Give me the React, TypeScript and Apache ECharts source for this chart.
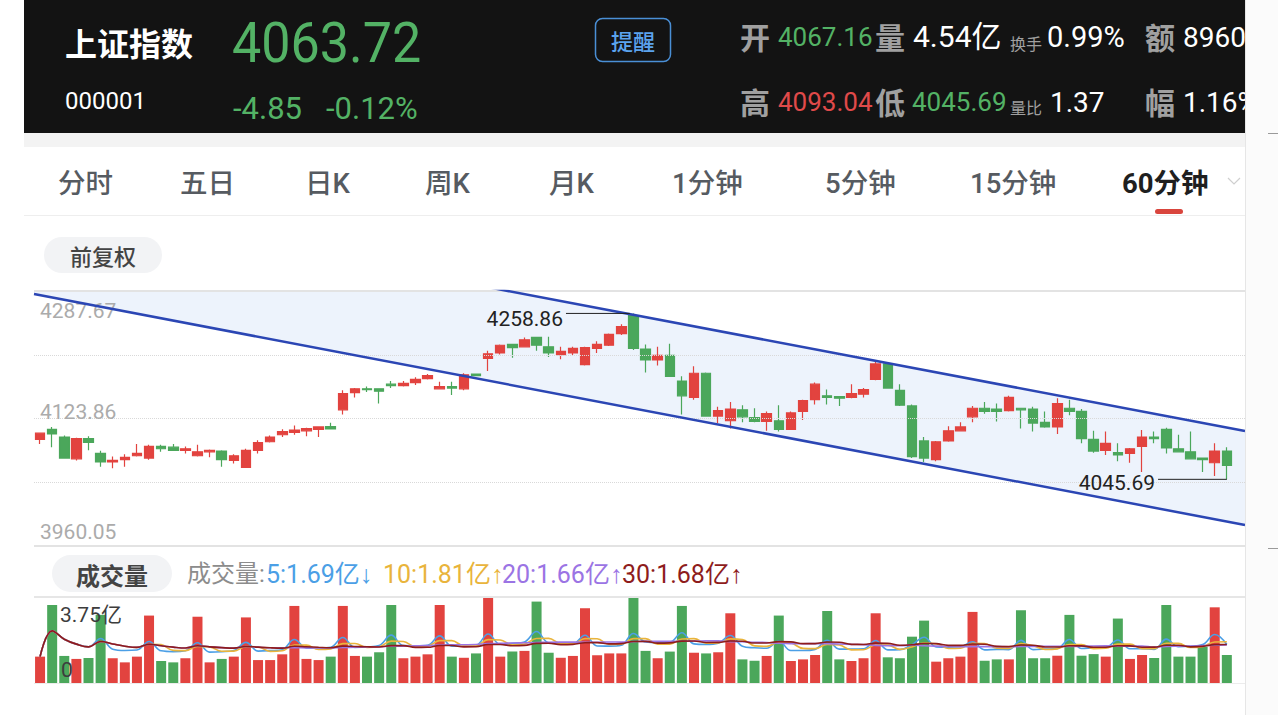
import React, { useEffect, useRef } from 'react';
import * as echarts from 'echarts';

// ---------- data ----------
const categories: string[] = Array.from({ length: 100 }, (_, i) => String(i + 1));

const opens = [4097, 4110, 4100, 4072, 4098, 4079, 4068, 4071, 4076, 4073, 4088, 4087, 4083, 4076, 4081, 4082, 4070, 4061, 4083, 4094, 4103, 4106, 4108, 4110, 4113.5, 4135, 4157, 4162, 4162, 4168, 4166, 4170, 4175, 4162, 4165, 4162, 4181, 4201, 4208, 4219, 4216, 4228, 4216, 4206, 4208, 4193, 4214, 4218, 4233, 4256, 4213, 4199, 4205, 4172, 4151, 4182, 4127, 4121, 4135, 4125, 4120, 4121, 4110, 4133, 4148, 4153, 4152, 4151, 4155, 4174, 4194, 4160, 4140, 4095, 4071, 4095, 4108, 4126, 4137, 4136, 4134, 4137, 4136, 4119, 4113, 4137, 4133, 4097, 4083, 4080, 4079, 4088, 4100, 4110, 4085, 4081, 4073, 4067, 4082];
const closes = [4105, 4104, 4073, 4098, 4093, 4068, 4070, 4074, 4079, 4088, 4085, 4083, 4085, 4081, 4083, 4071, 4076, 4083, 4093, 4100, 4107, 4109, 4111, 4113, 4110.5, 4156, 4162, 4161, 4159, 4166, 4169, 4174, 4179, 4165, 4163, 4180, 4179, 4207, 4218, 4215, 4225, 4218, 4208, 4210, 4214, 4215, 4219, 4232, 4242, 4214, 4199, 4205, 4178, 4153, 4182, 4127, 4134, 4136, 4126, 4120, 4130, 4110, 4131, 4147, 4168, 4151, 4150, 4156, 4161, 4194, 4163, 4141, 4075, 4073, 4094, 4108, 4113, 4137, 4133, 4133, 4151, 4135, 4118, 4113, 4143, 4133, 4098, 4082, 4092, 4077, 4085, 4100, 4098, 4086, 4081, 4072, 4071, 4082, 4063.72];
const lows = [4091, 4087, 4072, 4070, 4083, 4062, 4060, 4062, 4075, 4071, 4081, 4082, 4079, 4075, 4074, 4062, 4066, 4061, 4079, 4093, 4100, 4103, 4101, 4100, 4110, 4129, 4151, 4158, 4143, 4163, 4165, 4167, 4174, 4162, 4154, 4160, 4178, 4185, 4206, 4202, 4215, 4211, 4203, 4200, 4205, 4192, 4208, 4217, 4231, 4212, 4183, 4192, 4178, 4129, 4148, 4126, 4118, 4111, 4119, 4119, 4108, 4107, 4110, 4122, 4142, 4142, 4140, 4150, 4151, 4173, 4162, 4140, 4073, 4068, 4069, 4094, 4107, 4119, 4130, 4120, 4133, 4111, 4107, 4112, 4104, 4128, 4092, 4080, 4077, 4069, 4067, 4055, 4092, 4079, 4081, 4072, 4055, 4050, 4045.69];
const highs = [4106, 4113, 4102, 4099, 4101, 4082.5, 4075, 4078, 4091, 4090, 4090, 4091, 4088, 4090, 4084, 4083, 4078, 4085, 4096, 4102, 4110, 4115, 4112, 4114, 4118.5, 4160, 4163, 4165, 4162.5, 4172, 4172, 4177, 4181, 4171, 4171, 4182, 4181.5, 4211, 4219, 4219.5, 4228, 4228.5, 4229, 4216, 4216, 4216, 4223, 4233, 4245, 4258.86, 4219, 4216, 4220, 4178, 4191, 4183, 4139, 4145, 4141, 4137, 4133, 4141, 4133, 4148, 4170, 4161, 4152.5, 4168, 4163, 4197, 4196, 4168, 4142, 4100, 4095, 4114, 4119, 4140, 4145, 4143, 4153, 4137.5, 4139, 4133, 4150, 4148, 4136, 4108, 4107, 4092, 4086, 4109, 4107, 4112, 4103, 4107, 4073.5, 4092, 4087];

// volume in 亿, and its colour direction (1 = red, -1 = green)
const volumes = [1.15, 3.40, 1.18, 1.05, 1.09, 2.97, 1.08, 0.90, 1.15, 2.94, 0.96, 0.90, 1.08, 2.89, 0.90, 1.05, 1.15, 2.86, 1.00, 1.00, 1.25, 3.36, 1.05, 1.00, 1.15, 3.36, 1.18, 1.15, 1.34, 3.40, 1.08, 1.15, 1.25, 3.40, 1.15, 1.10, 1.29, 3.75, 1.15, 1.37, 1.40, 3.55, 1.32, 1.10, 1.18, 3.26, 1.21, 1.29, 1.29, 3.75, 1.40, 1.08, 1.37, 3.36, 1.32, 1.29, 1.34, 3.04, 1.03, 0.97, 1.18, 2.94, 0.96, 1.03, 1.22, 3.14, 1.03, 0.96, 1.08, 3.04, 1.12, 1.08, 2.02, 2.72, 0.93, 1.08, 1.15, 3.10, 0.97, 1.03, 1.03, 3.17, 1.08, 1.08, 1.19, 2.97, 1.19, 1.26, 1.15, 2.81, 1.05, 1.22, 1.09, 3.40, 1.15, 1.15, 1.58, 3.30, 1.22];
const volDir = [1, -1, -1, 1, -1, -1, 1, 1, 1, 1, -1, -1, 1, 1, 1, -1, 1, 1, 1, 1, 1, 1, 1, 1, -1, 1, 1, -1, -1, -1, 1, 1, 1, 1, -1, 1, -1, 1, 1, -1, 1, -1, -1, 1, 1, 1, 1, 1, 1, -1, -1, 1, -1, -1, 1, -1, 1, 1, -1, -1, 1, -1, 1, 1, 1, -1, -1, 1, 1, 1, -1, -1, -1, -1, 1, 1, 1, 1, -1, -1, 1, -1, -1, -1, 1, -1, -1, -1, 1, -1, 1, 1, -1, -1, -1, -1, -1, 1, -1];

const priceTicks = [4287.67, 4123.86, 3960.05];
const volTicks = [3.75, 0];
const volTickLabels = ['3.75亿', '0'];

// trend channel (x in slot index, y in price)
const channelX = [-0.5, 99.5];
const channelUpper = [4403.4, 4107.8];
const channelLower = [4283.8, 3987.0];

const maPeriods = [5, 10, 20, 30];
const maColors = ['#4b9fe6', '#e9b43c', '#9b74e4', '#8e1c1c'];
const maLegendValues = ['5:1.69亿', '10:1.81亿', '20:1.66亿', '30:1.68亿'];
const maLegendArrows = ['↓', '↑', '↑', '↑'];

const tabs = ['分时', '五日', '日K', '周K', '月K', '1分钟', '5分钟', '15分钟', '60分钟'];

// ---------- styles ----------
const UP = '#e2433f';
const DOWN = '#4ba75b';
const HG = '#53b265';
const HR = '#e04a4a';
const CJK = '"Noto Sans CJK SC", sans-serif';
const NUM = 'Roboto, "Noto Sans CJK SC", sans-serif';

function movingAvg(src: number[], n: number) {
  return src.map((_, i) => {
    const s = Math.max(0, i - n + 1);
    const w = src.slice(s, i + 1);
    return +(w.reduce((a, b) => a + b, 0) / w.length).toFixed(3);
  });
}

function txt(text: string, x: number, y: number, o: any = {}) {
  const { scaleX, z, ...style } = o;
  return {
    type: 'text',
    x,
    y,
    scaleX: scaleX ?? 1,
    z: z ?? 10,
    silent: true,
    style: { text, x: 0, y: 0, verticalAlign: 'middle', align: 'left', ...style },
  };
}

function buildOption() {
  const candles = opens.map((o, i) => [o, closes[i], lows[i], highs[i]]);
  const hiIdx = highs.indexOf(Math.max(...highs));
  const loIdx = lows.indexOf(Math.min(...lows));
  const hiVal = highs[hiIdx];
  const loVal = lows[loIdx];
  const volMax = volTicks[0];
  const quarterHi = (priceTicks[0] + priceTicks[1]) / 2;
  const quarterLo = (priceTicks[1] + priceTicks[2]) / 2;

  const labelBase = { color: '#ababab', fontFamily: 'Roboto', fontSize: 21 };

  const graphic: any[] = [
    // header
    { type: 'rect', shape: { x: 24, y: 0, width: 1221, height: 133 }, style: { fill: '#131313' }, z: 1, silent: true },
    { type: 'rect', shape: { x: 24, y: 133, width: 1221, height: 14 }, style: { fill: '#f3f3f3' }, z: 1, silent: true },
    txt('上证指数', 65, 42, { fill: '#ffffff', fontSize: 32, fontWeight: 'bold', fontFamily: CJK }),
    txt('4063.72', 232, 43, { fill: HG, fontSize: 56, fontFamily: 'Roboto', scaleX: 0.93 }),
    txt('000001', 65, 101, { fill: '#ffffff', fontSize: 24, fontFamily: 'Roboto' }),
    txt('-4.85', 233, 108, { fill: HG, fontSize: 31, fontFamily: 'Roboto' }),
    txt('-0.12%', 326, 108, { fill: HG, fontSize: 31, fontFamily: 'Roboto' }),
    { type: 'rect', shape: { x: 595.5, y: 18.5, width: 75, height: 43, r: 7 }, style: { fill: 'none', stroke: '#4a8fd6', lineWidth: 1.5 }, z: 10, silent: true },
    txt('提醒', 633, 40, { fill: '#5ba3ee', fontSize: 22, fontFamily: CJK, fontWeight: 500, align: 'center' }),

    txt('开', 740, 36, { fill: '#a0a0a0', fontSize: 30, fontWeight: 'bold', fontFamily: CJK }),
    txt('4067.16', 778, 37, { fill: HG, fontSize: 26, fontFamily: 'Roboto' }),
    txt('量', 875, 36, { fill: '#a0a0a0', fontSize: 30, fontWeight: 'bold', fontFamily: CJK }),
    txt('4.54亿', 913, 36, { fill: '#ffffff', fontSize: 30, fontFamily: NUM }),
    txt('换手', 1010, 43, { fill: '#a0a0a0', fontSize: 16, fontFamily: CJK }),
    txt('0.99%', 1047, 37, { fill: '#ffffff', fontSize: 29, fontFamily: 'Roboto' }),
    txt('额', 1145, 36, { fill: '#a0a0a0', fontSize: 30, fontWeight: 'bold', fontFamily: CJK }),
    txt('8960亿', 1183, 37, { fill: '#ffffff', fontSize: 28, fontFamily: NUM }),

    txt('高', 740, 101, { fill: '#a0a0a0', fontSize: 30, fontWeight: 'bold', fontFamily: CJK }),
    txt('4093.04', 778, 102, { fill: HR, fontSize: 26, fontFamily: 'Roboto' }),
    txt('低', 875, 101, { fill: '#a0a0a0', fontSize: 30, fontWeight: 'bold', fontFamily: CJK }),
    txt('4045.69', 912, 102, { fill: HG, fontSize: 26, fontFamily: 'Roboto' }),
    txt('量比', 1010, 107, { fill: '#a0a0a0', fontSize: 16, fontFamily: CJK }),
    txt('1.37', 1050, 102, { fill: '#ffffff', fontSize: 28, fontFamily: 'Roboto' }),
    txt('幅', 1145, 101, { fill: '#a0a0a0', fontSize: 30, fontWeight: 'bold', fontFamily: CJK }),
    txt('1.16%', 1183, 102, { fill: '#ffffff', fontSize: 28, fontFamily: 'Roboto' }),

    // tab bar
    { type: 'line', shape: { x1: 24, y1: 215.5, x2: 1245, y2: 215.5 }, style: { stroke: '#eeeeee', lineWidth: 1 }, z: 1, silent: true },
    { type: 'rect', shape: { x: 1155, y: 209, width: 28, height: 5, r: 2.5 }, style: { fill: '#d9453d' }, z: 10, silent: true },
    { type: 'polyline', shape: { points: [[1228, 178], [1234, 184], [1240, 178]] }, style: { stroke: '#cfcfcf', lineWidth: 1.2, fill: 'none' }, z: 10, silent: true },

    // 前复权 pill
    { type: 'rect', shape: { x: 44, y: 237, width: 118, height: 36, r: 18 }, style: { fill: '#f2f3f5' }, z: 1, silent: true },
    txt('前复权', 103, 255, { fill: '#444444', fontSize: 22, fontFamily: CJK, fontWeight: 500, align: 'center' }),

    // 成交量 pill and MA legend
    { type: 'rect', shape: { x: 52, y: 555, width: 120, height: 37, r: 18.5 }, style: { fill: '#f2f3f5' }, z: 1, silent: true },
    txt('成交量', 112, 574, { fill: '#444444', fontSize: 24, fontFamily: CJK, fontWeight: 'bold', align: 'center' }),
    txt('成交量:', 187, 574, { fill: '#8c8c8c', fontSize: 24, fontFamily: NUM }),
  ];

  const tabX = [58, 180, 305, 425, 549, 672, 825, 970, 1122];
  tabs.forEach((t, i) => {
    const active = i === tabs.length - 1;
    graphic.push(txt(t, tabX[i], 183, { fill: active ? '#1f1f1f' : '#565b61', fontSize: 27.5, fontFamily: NUM, fontWeight: active ? 'bold' : 500 }));
  });

  const legX = [266, 383, 502, 622];
  maLegendValues.forEach((t, i) => {
    graphic.push({
      type: 'text', x: legX[i], y: 574, z: 10, silent: true,
      style: {
        text: `{v|${t}}{a|${maLegendArrows[i]}}`,
        x: 0, y: 0, verticalAlign: 'middle', align: 'left',
        rich: {
          v: { fill: maColors[i], fontSize: 25, fontFamily: NUM },
          a: { fill: maColors[i], fontSize: 25, fontFamily: '"Liberation Sans", sans-serif' },
        },
      },
    });
  });

  // right strip
  graphic.push(
    { type: 'rect', shape: { x: 1245, y: 0, width: 33, height: 715 }, style: { fill: '#fbfbfb' }, z: 50, silent: true },
    { type: 'line', shape: { x1: 1245.5, y1: 0, x2: 1245.5, y2: 715 }, style: { stroke: '#e6e6e6', lineWidth: 1 }, z: 51, silent: true },
    { type: 'line', shape: { x1: 1268, y1: 133.5, x2: 1278, y2: 133.5 }, style: { stroke: '#9a9a9a', lineWidth: 1 }, z: 51, silent: true },
    { type: 'line', shape: { x1: 1268, y1: 548.5, x2: 1278, y2: 548.5 }, style: { stroke: '#9a9a9a', lineWidth: 1 }, z: 51, silent: true },
  );

  const series: any[] = [
    // channel fill: tinted area under the upper line, white area under the lower line
    {
      type: 'line', xAxisIndex: 1, yAxisIndex: 0, symbol: 'none', silent: true, clip: true,
      data: channelX.map((x, k) => [x, channelUpper[k]]),
      lineStyle: { width: 0, opacity: 0 }, areaStyle: { color: '#edf3fc', opacity: 1, origin: 'start' }, z: 1,
    },
    {
      type: 'line', xAxisIndex: 1, yAxisIndex: 0, symbol: 'none', silent: true, clip: true,
      data: channelX.map((x, k) => [x, channelLower[k]]),
      lineStyle: { width: 0, opacity: 0 }, areaStyle: { color: '#ffffff', opacity: 1, origin: 'start' }, z: 1.5,
    },
    // candles
    {
      type: 'candlestick', xAxisIndex: 0, yAxisIndex: 0, data: candles, barWidth: 10, z: 3,
      itemStyle: { color: UP, color0: DOWN, borderColor: UP, borderColor0: DOWN, borderWidth: 1.2 },
      markLine: {
        silent: true, symbol: ['none', 'none'], animation: false,
        data: [
          { yAxis: priceTicks[0], lineStyle: { color: '#e3e3e3', width: 2, type: 'solid' }, label: { ...labelBase, show: true, position: 'insideStartBottom', distance: [6, 9], formatter: priceTicks[0].toFixed(2) } },
          { yAxis: quarterHi, lineStyle: { color: '#d9d9d9', width: 1, type: 'dotted' }, label: { show: false } },
          { yAxis: priceTicks[1], lineStyle: { color: '#d9d9d9', width: 1, type: 'dotted' }, label: { ...labelBase, show: true, position: 'insideStartTop', distance: [6, -4], formatter: priceTicks[1].toFixed(2) } },
          { yAxis: quarterLo, lineStyle: { color: '#d9d9d9', width: 1, type: 'dotted' }, label: { show: false } },
          { yAxis: priceTicks[2], lineStyle: { color: '#e3e3e3', width: 2, type: 'solid' }, label: { ...labelBase, show: true, position: 'insideStartTop', distance: [6, 4], formatter: priceTicks[2].toFixed(2) } },
        ],
      },
    },
    // channel lines
    {
      type: 'line', xAxisIndex: 1, yAxisIndex: 0, symbol: 'none', silent: true, z: 5,
      data: channelX.map((x, k) => [x, channelUpper[k]]),
      lineStyle: { color: '#2b46b4', width: 2.5 },
    },
    {
      type: 'line', xAxisIndex: 1, yAxisIndex: 0, symbol: 'none', silent: true, z: 5,
      data: channelX.map((x, k) => [x, channelLower[k]]),
      lineStyle: { color: '#2b46b4', width: 2.5 },
    },
    // max / min annotations
    {
      type: 'line', xAxisIndex: 1, yAxisIndex: 0, symbol: 'circle', symbolSize: 0.1, silent: true, z: 6,
      data: [
        { value: [hiIdx - 5.57, hiVal], label: { show: true, position: 'left', distance: 3, offset: [0, 6], formatter: hiVal.toFixed(2), color: '#222', fontFamily: 'Roboto', fontSize: 21 } },
        { value: [hiIdx - 0.3, hiVal] },
      ],
      lineStyle: { color: '#222', width: 1 }, itemStyle: { color: '#222' },
    },
    {
      type: 'line', xAxisIndex: 1, yAxisIndex: 0, symbol: 'circle', symbolSize: 0.1, silent: true, z: 6,
      data: [
        { value: [loIdx - 5.68, loVal], label: { show: true, position: 'left', distance: 3, offset: [0, 4], formatter: loVal.toFixed(2), color: '#222', fontFamily: 'Roboto', fontSize: 21 } },
        { value: [loIdx, loVal] },
      ],
      lineStyle: { color: '#222', width: 1 }, itemStyle: { color: '#222' },
    },
    // volume
    {
      type: 'bar', xAxisIndex: 2, yAxisIndex: 1, barWidth: 10, z: 2,
      data: volumes.map((v, i) => ({ value: v, itemStyle: { color: volDir[i] > 0 ? UP : DOWN } })),
    },
  ];

  maPeriods.forEach((p, k) => {
    const s: any = {
      type: 'line', xAxisIndex: 2, yAxisIndex: 1, symbol: 'none', silent: true, smooth: 0.4, z: 4 + k * 0.1,
      data: movingAvg(volumes, p), lineStyle: { color: maColors[k], width: 1.6 },
    };
    if (k === maPeriods.length - 1) {
      s.markLine = {
        silent: true, symbol: ['none', 'none'], animation: false,
        data: [
          { yAxis: volTicks[0], lineStyle: { color: '#e6e6e6', width: 2, type: 'solid' }, label: { show: true, position: 'insideStartBottom', distance: [26, 7], formatter: volTickLabels[0], color: '#3d3d3d', fontFamily: NUM, fontSize: 21 } },
          { yAxis: volTicks[1], lineStyle: { color: '#ececec', width: 1, type: 'solid' }, label: { show: true, position: 'insideStartTop', distance: [27, 3], formatter: volTickLabels[1], color: '#3d3d3d', fontFamily: NUM, fontSize: 21 } },
        ],
      };
    }
    series.push(s);
  });

  return {
    animation: false,
    backgroundColor: '#ffffff',
    grid: [
      { left: 34, top: 291, width: 1211, height: 255 },
      { left: 34, top: 597, width: 1211, height: 86 },
    ],
    xAxis: [
      { type: 'category', gridIndex: 0, data: categories, show: false, boundaryGap: true },
      { type: 'value', gridIndex: 0, min: -0.5, max: 99.5, show: false },
      { type: 'category', gridIndex: 1, data: categories, show: false, boundaryGap: true },
    ],
    yAxis: [
      { type: 'value', gridIndex: 0, min: priceTicks[2], max: priceTicks[0], show: false },
      { type: 'value', gridIndex: 1, min: 0, max: volMax, show: false },
    ],
    graphic: { elements: graphic },
    series,
  };
}

export default function App() {
  const ref = useRef<HTMLDivElement>(null);
  useEffect(() => {
    if (!ref.current) return;
    const chart = echarts.init(ref.current, null, { renderer: 'svg' });
    chart.setOption(buildOption() as any);
    return () => chart.dispose();
  }, []);
  return (
    <div
      ref={ref}
      style={{ position: 'fixed', left: 0, top: 0, width: 1278, height: 715, background: '#ffffff' }}
    />
  );
}
